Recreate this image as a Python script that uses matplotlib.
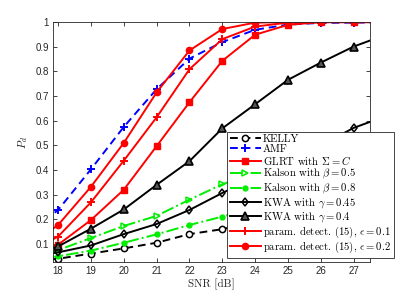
import matplotlib
matplotlib.use("Agg")
import matplotlib.pyplot as plt

plt.rcParams["mathtext.fontset"] = "cm"
plt.rcParams["font.family"] = "Liberation Sans"
plt.rcParams["axes.unicode_minus"] = False

# SNR grid (17 and 28 only reach the clipped edges of the axes)
snr = [17, 18, 19, 20, 21, 22, 23, 24, 25, 26, 27, 28]

kelly      = [0.030, 0.040, 0.061, 0.082, 0.105, 0.140, 0.160, 0.190, 0.220, 0.260, 0.300, 0.340]
amf        = [0.130, 0.238, 0.403, 0.575, 0.728, 0.852, 0.919, 0.969, 0.990, 0.997, 0.998, 0.999]
glrt       = [0.050, 0.097, 0.197, 0.320, 0.497, 0.675, 0.843, 0.949, 0.989, 1.000, 1.000, 1.000]
kalson_05  = [0.045, 0.075, 0.124, 0.173, 0.214, 0.280, 0.342, 0.390, 0.430, 0.470, 0.500, 0.530]
kalson_08  = [0.035, 0.050, 0.073, 0.105, 0.139, 0.177, 0.211, 0.250, 0.290, 0.330, 0.370, 0.410]
kwa_045    = [0.045, 0.066, 0.094, 0.140, 0.181, 0.238, 0.307, 0.370, 0.435, 0.500, 0.571, 0.620]
kwa_04     = [0.050, 0.090, 0.162, 0.240, 0.340, 0.436, 0.569, 0.667, 0.766, 0.836, 0.901, 0.950]
param_01   = [0.060, 0.130, 0.269, 0.438, 0.614, 0.809, 0.931, 0.982, 0.998, 1.000, 1.000, 1.000]
param_02   = [0.080, 0.177, 0.332, 0.510, 0.715, 0.885, 0.972, 0.998, 1.000, 1.000, 1.000, 1.000]

labels = [
    r"KELLY",
    r"AMF",
    r"GLRT with $\Sigma = C$",
    r"Kalson with $\beta = 0.5$",
    r"Kalson with $\beta = 0.8$",
    r"KWA with $\gamma = 0.45$",
    r"KWA with $\gamma = 0.4$",
    r"param. detect. (15), $\epsilon = 0.1$",
    r"param. detect. (15), $\epsilon = 0.2$",
]

RED, BLUE, GREEN = "#ff0000", "#0000ff", "#00ee00"
LW = 1.4
MS = 4.5

fig = plt.figure(figsize=(4.09, 2.95), dpi=100)
ax = fig.add_axes([0.130, 0.112, 0.775, 0.813])

ax.plot(snr, kelly, color="k", ls="--", dashes=(4, 2.5), lw=LW, marker="o",
        ms=MS, mfc="white", mew=1.1, label=labels[0])
ax.plot(snr, amf, color=BLUE, ls="--", dashes=(4, 2.5), lw=LW, marker="+",
        ms=MS + 1, mew=1.4, label=labels[1])
ax.plot(snr, glrt, color=RED, lw=LW, marker="s", ms=MS - 0.5, mfc=RED,
        label=labels[2])
ax.plot(snr, kalson_05, color=GREEN, ls="-.", lw=LW, marker=">", ms=MS + 0.5,
        mfc="none", mew=1.1, label=labels[3])
ax.plot(snr, kalson_08, color=GREEN, ls="-.", lw=LW, marker="o", ms=MS - 1,
        mfc=GREEN, label=labels[4])
ax.plot(snr, kwa_045, color="k", lw=LW, marker="d", ms=MS, mfc="none",
        mew=1.1, label=labels[5])
ax.plot(snr, kwa_04, color="k", lw=LW, marker="^", ms=MS + 1, mfc="#555555",
        mew=1.2, label=labels[6])
ax.plot(snr, param_01, color=RED, lw=LW, marker="+", ms=MS + 1, mew=1.4,
        label=labels[7])
ax.plot(snr, param_02, color=RED, lw=LW, marker="o", ms=MS, mfc=RED,
        label=labels[8])

ax.set_xlim(17.85, 27.5)
ax.set_ylim(0.027, 1.0)
ax.set_xticks(range(18, 28))
ax.set_yticks([0.1, 0.2, 0.3, 0.4, 0.5, 0.6, 0.7, 0.8, 0.9, 1.0])
ax.set_yticklabels(["0.1", "0.2", "0.3", "0.4", "0.5", "0.6", "0.7",
                    "0.8", "0.9", "1"])

ax.tick_params(direction="in", top=True, right=True, length=3, width=0.6,
               labelsize=7, colors="#262626", pad=3)
for sp in ax.spines.values():
    sp.set_color("#262626")
    sp.set_linewidth(0.6)

ax.set_xlabel("SNR [dB]", family="cmr10", fontsize=8, color="#262626",
              labelpad=2)
ax.set_ylabel(r"$P_d$", fontsize=8, color="#262626", labelpad=4)

leg = ax.legend(loc="lower left", bbox_to_anchor=(0.549, 0.017),
                prop={"family": "cmr10", "size": 7.7},
                handlelength=2.9, handletextpad=0.2, labelspacing=0.02,
                borderpad=0.25, borderaxespad=0, fancybox=False,
                framealpha=1.0, edgecolor="#262626")
leg.get_frame().set_linewidth(0.6)

fig.savefig("out.png", dpi=100)
